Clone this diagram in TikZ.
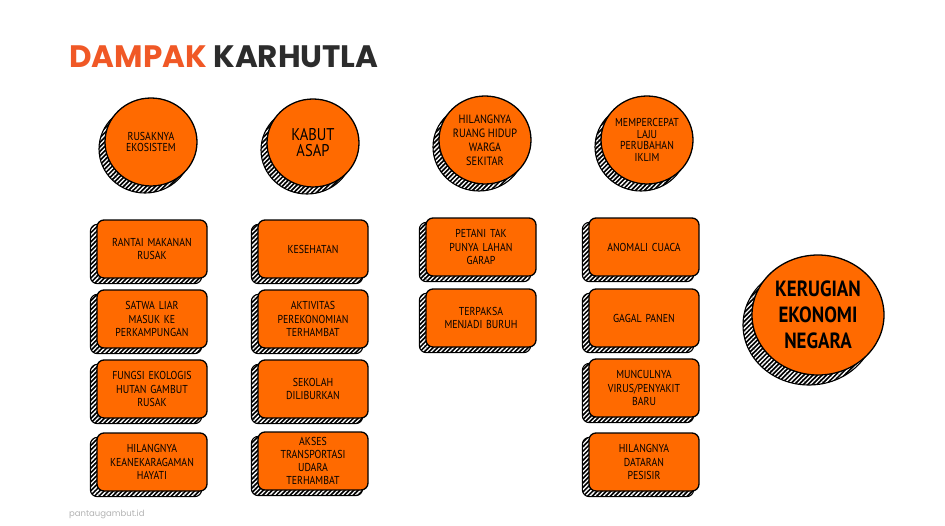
\documentclass[tikz,border=0pt]{standalone}
\usepackage{fontspec}
\setmainfont{PT Sans}
\newfontfamily\judulfont{Poppins}
\newfontfamily\tanganfont[FakeStretch=0.86]{PT Sans}
\usepackage{xcolor}
\usetikzlibrary{shapes.geometric, patterns.meta, backgrounds}
\definecolor{apiorange}{RGB}{255,106,0}
\definecolor{judulmerah}{RGB}{240,88,38}
\definecolor{judulgelap}{RGB}{44,44,44}

\begin{document}
\begin{tikzpicture}[x=1pt, y=-1pt,
    dampak/.style={draw=black, line width=1.3pt, fill=apiorange, rounded corners=7pt,
        minimum width=110pt, minimum height=58pt, text width=106pt, inner sep=1pt,
        align=center, font=\tanganfont\fontsize{11.5}{13.8}\selectfont},
    sebab/.style={ellipse, draw=black, line width=1.3pt, fill=apiorange,
        minimum width=92pt, minimum height=88pt, inner sep=0pt, align=center},
    arsir/.style={draw=black, line width=1.1pt, preaction={fill=black},
        pattern={Lines[angle=45, distance=3.2pt, line width=1.3pt]}, pattern color=white}]
    \useasboundingbox (0,0) rectangle (945,525);

    % judul
    \node[anchor=base west, inner sep=0pt, font=\judulfont\bfseries\fontsize{31}{31}\selectfont] (judul) at (69,67)
        {\textcolor{judulmerah}{DAMPAK} \textcolor{judulgelap}{KARHUTLA}};

    % penyebab utama (lingkaran)
    \node[sebab, font=\tanganfont\fontsize{11.5}{11.5}\selectfont] (s1) at (151,142) {RUSAKNYA\\EKOSISTEM};
    \node[sebab, font=\tanganfont\fontsize{17}{16}\selectfont] (s2) at (313,143) {KABUT\\ASAP};
    \node[sebab, font=\tanganfont\fontsize{12}{14}\selectfont] (s3) at (485,140) {HILANGNYA\\RUANG HIDUP\\WARGA\\SEKITAR};
    \node[sebab, font=\tanganfont\fontsize{11.5}{11.5}\selectfont] (s4) at (647,140) {MEMPERCEPAT\\LAJU\\PERUBAHAN\\IKLIM};

    % kolom 1
    \node[dampak] (a1) at (152,249) {RANTAI MAKANAN\\RUSAK};
    \node[dampak] (a2) at (152,319) {SATWA LIAR\\MASUK KE\\PERKAMPUNGAN};
    \node[dampak] (a3) at (152,389) {FUNGSI EKOLOGIS\\HUTAN GAMBUT\\RUSAK};
    \node[dampak] (a4) at (152,462) {HILANGNYA\\KEANEKARAGAMAN\\HAYATI};

    % kolom 2
    \node[dampak] (b1) at (313,249) {KESEHATAN};
    \node[dampak] (b2) at (313,319) {AKTIVITAS\\PEREKONOMIAN\\TERHAMBAT};
    \node[dampak] (b3) at (313,389) {SEKOLAH\\DILIBURKAN};
    \node[dampak, font=\tanganfont\fontsize{11.5}{13.2}\selectfont] (b4) at (313,461) {AKSES\\TRANSPORTASI\\UDARA\\TERHAMBAT};

    % kolom 3
    \node[dampak] (c1) at (481,247) {PETANI TAK\\PUNYA LAHAN\\GARAP};
    \node[dampak] (c2) at (481,318) {TERPAKSA\\MENJADI BURUH};

    % kolom 4
    \node[dampak] (d1) at (644,247) {ANOMALI CUACA};
    \node[dampak] (d2) at (644,318) {GAGAL PANEN};
    \node[dampak] (d3) at (644,388) {MUNCULNYA\\VIRUS/PENYAKIT\\BARU};
    \node[dampak] (d4) at (644,462) {HILANGNYA\\DATARAN\\PESISIR};

    % akhir
    \node[sebab, minimum width=132pt, minimum height=120pt, font=\tanganfont\bfseries\fontsize{22}{26}\selectfont] (k1) at (818,315)
        {KERUGIAN\\EKONOMI\\NEGARA};

    % bayangan arsir
    \begin{scope}[on background layer]
        \foreach \n in {a1,a2,a3,a4,b1,b2,b3,b4,c1,c2,d1,d2,d3,d4}
            \path[arsir, rounded corners=7pt] ([shift={(-6,5)}]\n.south west) rectangle ([shift={(-6,5)}]\n.north east);
        \foreach \n in {s1,s2,s3,s4}
            \path[arsir] ([shift={(-6,7)}]\n.center) ellipse [x radius=46pt, y radius=44pt];
        \path[arsir] ([shift={(-9,10)}]k1.center) ellipse [x radius=66pt, y radius=60pt];
    \end{scope}

    % sumber
    \node[anchor=west, inner sep=0pt, text=black!30, font=\judulfont\fontsize{8.5}{10}\selectfont] (sumber) at (69,514) {pantaugambut.id};
\end{tikzpicture}
\end{document}
